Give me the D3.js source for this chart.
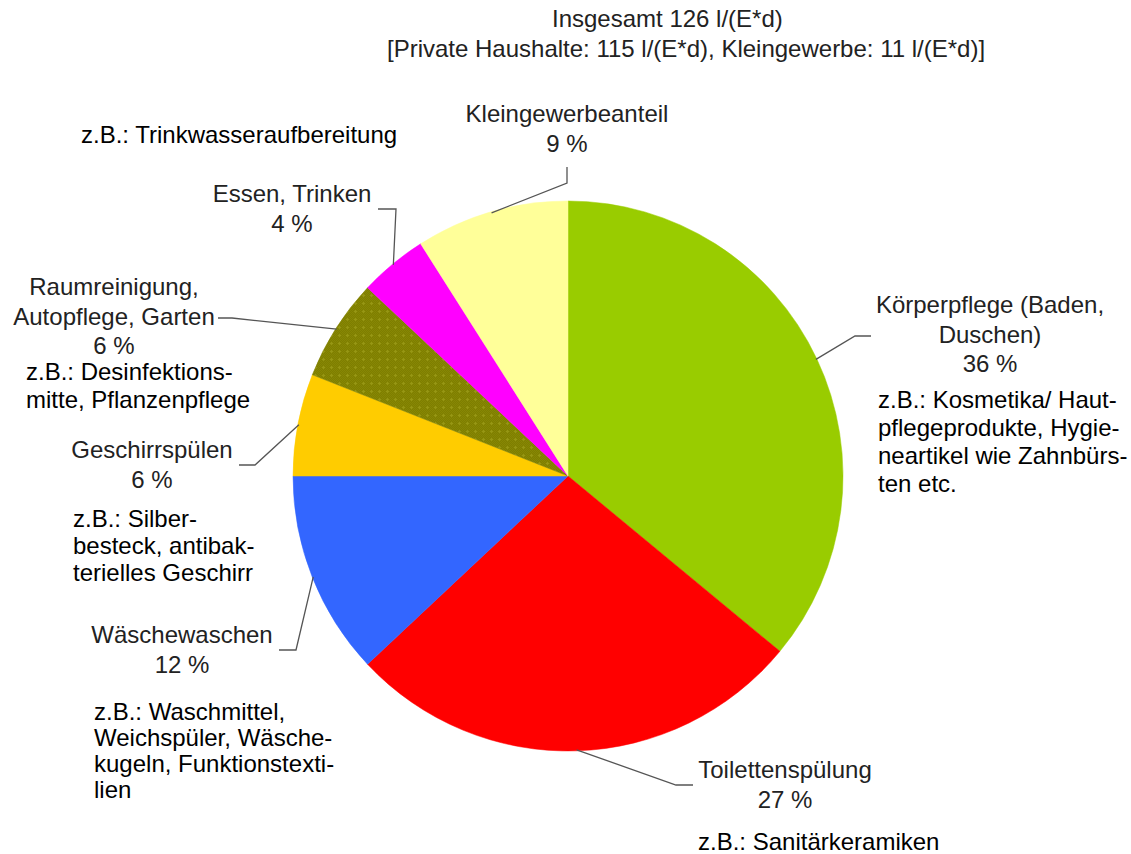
<!DOCTYPE html>
<html>
<head>
<meta charset="utf-8">
<script src="https://cdn.jsdelivr.net/npm/d3@7"></script>
<style>
  body { margin: 0; background: #ffffff; }
  svg text { font-family: "Liberation Sans", Arial, sans-serif; }
</style>
</head>
<body>
<svg id="chart" width="1131" height="854"></svg>
<script>
// data
var categories = ["Körperpflege (Baden, Duschen)", "Toilettenspülung", "Wäschewaschen",
                  "Geschirrspülen", "Raumreinigung, Autopflege, Garten", "Essen, Trinken", "Kleingewerbeanteil"];
var shares = [36, 27, 12, 6, 6, 4, 9];
var sliceColors = ["#99cc00", "#ff0000", "#3366ff", "#ffcc00", "url(#olive)", "#ff00ff", "#ffff99"];

var labelLines = [
    ["Körperpflege (Baden,", "Duschen)", "36 %"],
    ["Toilettenspülung", "27 %"],
    ["Wäschewaschen", "12 %"],
    ["Geschirrspülen", "6 %"],
    ["Raumreinigung,", "Autopflege, Garten", "6 %"],
    ["Essen, Trinken", "4 %"],
    ["Kleingewerbeanteil", "9 %"]
];
var exampleLines = [
    ["z.B.: Kosmetika/ Haut-", "pflegeprodukte, Hygie-", "neartikel wie Zahnbürs-", "ten etc."],
    ["z.B.: Sanitärkeramiken"],
    ["z.B.: Waschmittel,", "Weichspüler, Wäsche-", "kugeln, Funktionstexti-", "lien"],
    ["z.B.: Silber-", "besteck, antibak-", "terielles Geschirr"],
    ["z.B.: Desinfektions-", "mitte, Pflanzenpflege"],
    ["z.B.: Trinkwasseraufbereitung"],
    []
];
var titleLines = ["Insgesamt 126 l/(E*d)",
                  "[Private Haushalte: 115 l/(E*d), Kleingewerbe: 11 l/(E*d)]"];

// layout
var cx = 568, cy = 476, radius = 275;
var fontSize = 24;
// label centre x, first baseline; leader elbow + end
var labelPos = [
    {x: 990, y: 313, elbow: [855, 336], end: [871, 336]},
    {x: 785, y: 778, elbow: [676, 785], end: [693, 785]},
    {x: 182, y: 643, elbow: [296, 650], end: [279, 650]},
    {x: 152, y: 458, elbow: [255, 465], end: [239, 465]},
    {x: 114, y: 295, elbow: [232, 318], end: [218, 318]},
    {x: 292, y: 202, elbow: [396, 209], end: [378, 209]},
    {x: 567, y: 122, elbow: [567, 183], end: [567, 167]}
];
// example block left x, first baseline, line step
var examplePos = [
    {x: 878, y: 408, dy: 28},
    {x: 698, y: 850, dy: 27},
    {x: 94, y: 720, dy: 26},
    {x: 73, y: 527, dy: 27},
    {x: 26, y: 380, dy: 28},
    {x: 81, y: 143, dy: 27},
    {x: 0, y: 0, dy: 0}
];

var svg = d3.select("#chart");
var defs = svg.append("defs");

// faint dotted olive fill
var chk = defs.append("pattern").attr("id", "olive")
    .attr("patternUnits", "userSpaceOnUse").attr("width", 8).attr("height", 8);
chk.append("rect").attr("width", 8).attr("height", 8).attr("fill", "#7e7e00");
for (var i = 0; i < 8; i++) {
    for (var j = 0; j < 8; j++) {
        if ((i + j) % 2 === 0) {
            chk.append("rect").attr("x", i).attr("y", j).attr("width", 1).attr("height", 1)
                .attr("fill", "#878704");
        }
    }
}
chk.append("rect").attr("x", 3).attr("y", 2).attr("width", 1).attr("height", 3).attr("fill", "#969614");
chk.append("rect").attr("x", 2).attr("y", 3).attr("width", 3).attr("height", 1).attr("fill", "#969614");

var pie = d3.pie().sort(null).value(function(d) { return d; });
var arcs = pie(shares);
var arc = d3.arc().innerRadius(0).outerRadius(radius);

var g = svg.append("g").attr("transform", "translate(" + cx + "," + cy + ")");
g.selectAll("path.slice")
    .data(arcs)
    .enter()
    .append("path")
    .attr("class", "slice")
    .attr("d", arc)
    .attr("fill", function(d, i) { return sliceColors[i]; })
    .attr("stroke", function(d, i) { return i === 4 ? "#808000" : sliceColors[i]; })
    .attr("stroke-width", 0.5);

// leader lines from slice middle on the rim
var edge = d3.arc().innerRadius(radius - 1).outerRadius(radius - 1);
svg.selectAll("polyline.leader")
    .data(arcs)
    .enter()
    .append("polyline")
    .attr("class", "leader")
    .attr("points", function(d, i) {
        var c = edge.centroid(d);
        var p = labelPos[i];
        return [[cx + c[0], cy + c[1]], p.elbow, p.end].map(function(q) { return q.join(","); }).join(" ");
    })
    .attr("fill", "none")
    .attr("stroke", "#555555")
    .attr("stroke-width", 1.3);

// category labels
labelLines.forEach(function(lines, i) {
    var p = labelPos[i];
    var t = svg.append("text")
        .attr("text-anchor", "middle")
        .attr("font-size", fontSize)
        .attr("fill", "#222222");
    lines.forEach(function(s, k) {
        t.append("tspan").attr("x", p.x).attr("y", p.y + k * 29.5).text(s);
    });
});

// examples
exampleLines.forEach(function(lines, i) {
    var p = examplePos[i];
    var t = svg.append("text")
        .attr("font-size", fontSize)
        .attr("fill", "#000000");
    lines.forEach(function(s, k) {
        t.append("tspan").attr("x", p.x).attr("y", p.y + k * p.dy).text(s);
    });
});

// title
svg.append("text").attr("x", 552).attr("y", 27).attr("font-size", fontSize)
    .attr("fill", "#222222").text(titleLines[0]);
svg.append("text").attr("x", 387).attr("y", 57).attr("font-size", fontSize)
    .attr("fill", "#222222").text(titleLines[1]);
</script>
</body>
</html>
